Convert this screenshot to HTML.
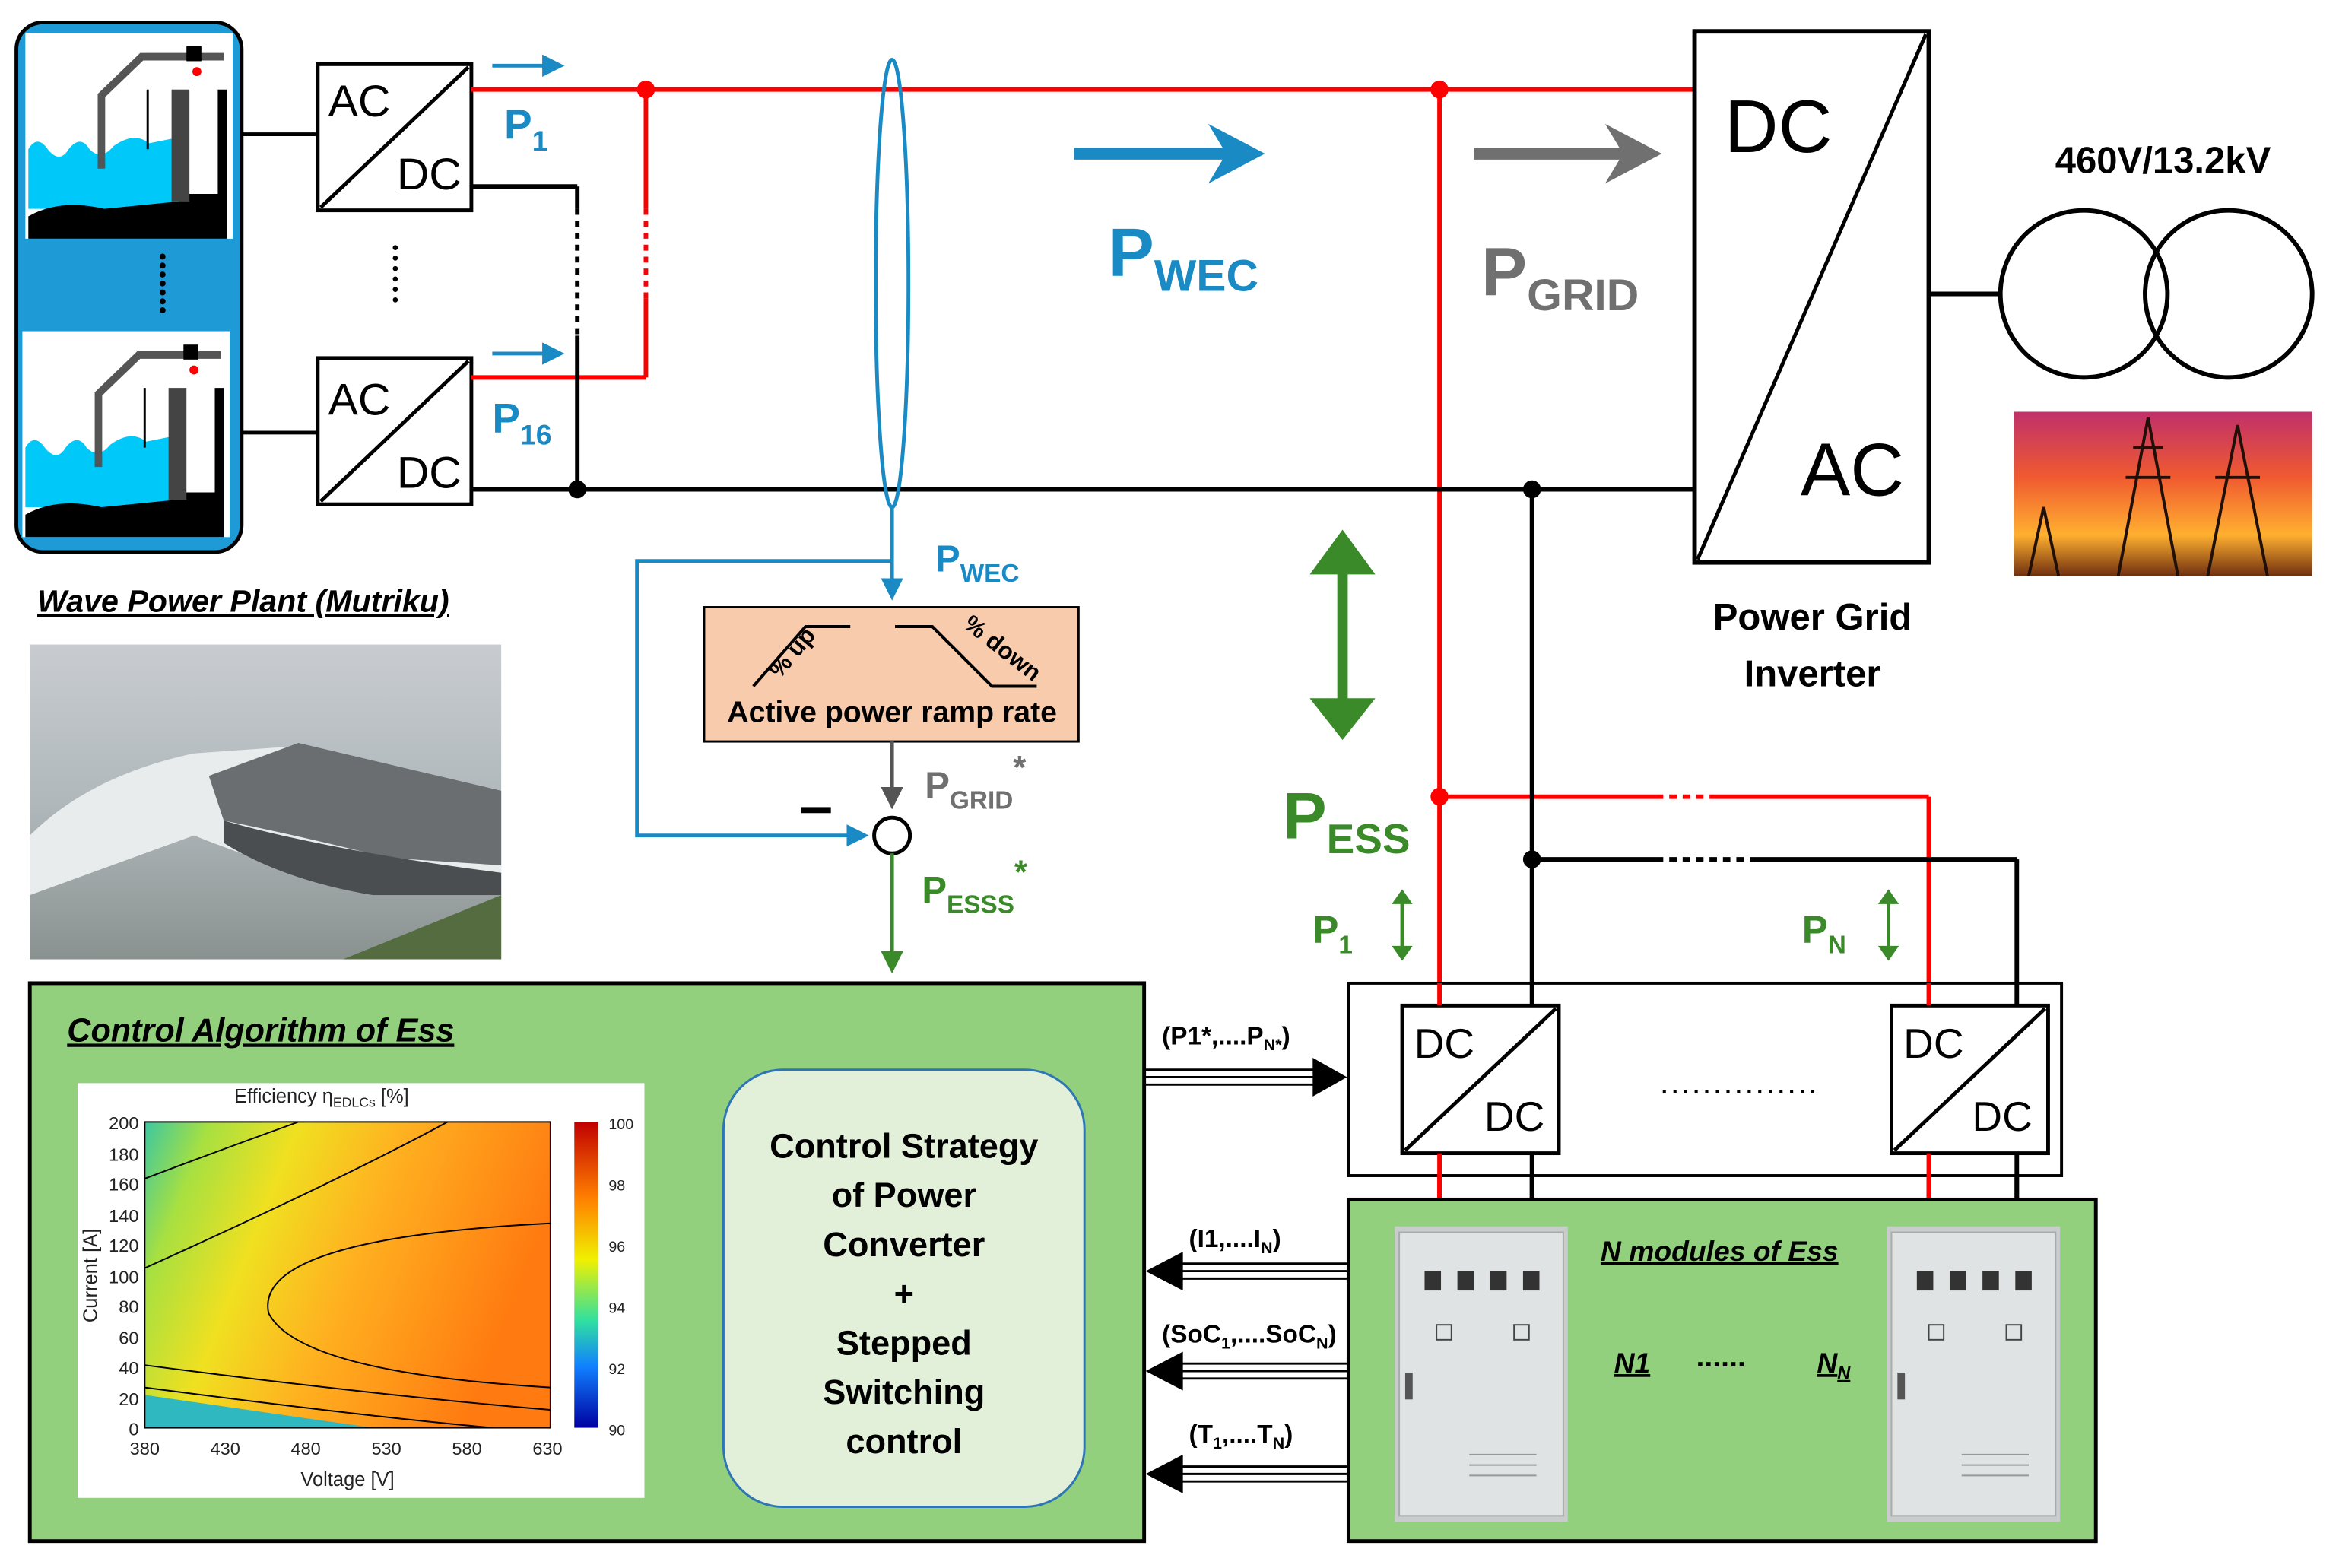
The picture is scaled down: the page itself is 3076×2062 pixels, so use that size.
<!DOCTYPE html>
<html><head><meta charset="utf-8"><style>
html,body{margin:0;padding:0;background:#fff;}
svg{display:block;}
text{font-family:"Liberation Sans","DejaVu Sans",sans-serif;}
</style></head><body>
<svg width="3076" height="2062" viewBox="0 0 1568 1051" preserveAspectRatio="none" xmlns="http://www.w3.org/2000/svg">
<defs>
<marker id="ab" markerWidth="6" markerHeight="6" refX="5" refY="3" orient="auto" markerUnits="strokeWidth"><path d="M0,0 L6,3 L0,6 z" fill="#1a8ac4"/></marker>
<marker id="ag" markerWidth="6" markerHeight="6" refX="5" refY="3" orient="auto" markerUnits="strokeWidth"><path d="M0,0 L6,3 L0,6 z" fill="#555"/></marker>
<marker id="agr" markerWidth="6" markerHeight="6" refX="5" refY="3" orient="auto" markerUnits="strokeWidth"><path d="M0,0 L6,3 L0,6 z" fill="#3a8a2a"/></marker>
<linearGradient id="heat" x1="0" y1="0" x2="1" y2="0.3">
<stop offset="0" stop-color="#3cc8a0"/><stop offset="0.15" stop-color="#a8e040"/><stop offset="0.35" stop-color="#f0e020"/><stop offset="0.6" stop-color="#ffb020"/><stop offset="1" stop-color="#ff7a10"/></linearGradient>
<linearGradient id="cbar" x1="0" y1="0" x2="0" y2="1"><stop offset="0" stop-color="#c00000"/><stop offset="0.25" stop-color="#ff8000"/><stop offset="0.45" stop-color="#f0f000"/><stop offset="0.65" stop-color="#30e0a0"/><stop offset="0.8" stop-color="#1080ff"/><stop offset="1" stop-color="#0000a0"/></linearGradient>
<linearGradient id="sun" x1="0" y1="0" x2="0" y2="1"><stop offset="0" stop-color="#c0306a"/><stop offset="0.4" stop-color="#f05a30"/><stop offset="0.75" stop-color="#ffb030"/><stop offset="1" stop-color="#703010"/></linearGradient>
<linearGradient id="sea" x1="0" y1="0" x2="0" y2="1"><stop offset="0" stop-color="#c8ccd0"/><stop offset="0.5" stop-color="#b0b8bc"/><stop offset="1" stop-color="#8a9290"/></linearGradient>
</defs>

<!-- Wave panel -->
<rect x="11" y="15" width="151" height="355" rx="18" fill="#1e9bd7" stroke="#000" stroke-width="2.5"/>
<g id="wec">
<rect x="17" y="22" width="139" height="138" fill="#fff"/>
<path d="M19,100 Q25,90 32,100 Q40,110 46,100 Q54,90 60,100 Q68,108 76,98 Q90,88 100,96 L120,92 L120,140 L19,140 z" fill="#00c8f8"/>
<path d="M19,160 L19,145 Q40,133 70,140 L120,135 L120,130 L146,130 L146,60 L152,60 L152,160 z" fill="#000"/>
<rect x="115" y="60" width="12" height="75" fill="#444"/>
<path d="M68,113 L68,64 L95,38 L150,38" fill="none" stroke="#555" stroke-width="5"/>
<rect x="125" y="31" width="10" height="10" fill="#000"/>
<circle cx="132" cy="48" r="3" fill="red"/>
<line x1="99" y1="60" x2="99" y2="100" stroke="#000" stroke-width="1.5"/>
</g>
<use href="#wec" transform="translate(-2,200)"/>
<g fill="#000"><circle cx="109" cy="172" r="2"/><circle cx="109" cy="178" r="2"/><circle cx="109" cy="184" r="2"/><circle cx="109" cy="190" r="2"/><circle cx="109" cy="196" r="2"/><circle cx="109" cy="202" r="2"/><circle cx="109" cy="208" r="2"/></g>

<!-- AC/DC boxes -->
<g stroke="#000" stroke-width="2.5" fill="#fff">
<rect x="213" y="43" width="103" height="98"/><line x1="215" y1="139" x2="314" y2="45"/>
<rect x="213" y="240" width="103" height="98"/><line x1="215" y1="336" x2="314" y2="242"/>
</g>
<g font-size="30" fill="#000"><text x="220" y="78">AC</text><text x="266" y="127">DC</text><text x="220" y="278">AC</text><text x="266" y="327">DC</text></g>
<g fill="#000"><circle cx="265" cy="166" r="1.7"/><circle cx="265" cy="173" r="1.7"/><circle cx="265" cy="180" r="1.7"/><circle cx="265" cy="187" r="1.7"/><circle cx="265" cy="194" r="1.7"/><circle cx="265" cy="201" r="1.7"/></g>
<line x1="162" y1="90" x2="213" y2="90" stroke="#000" stroke-width="2.5"/>
<line x1="162" y1="290" x2="213" y2="290" stroke="#000" stroke-width="2.5"/>

<!-- red bus -->
<g stroke="#f00" stroke-width="3" fill="none">
<line x1="316" y1="60" x2="1136" y2="60"/>
<line x1="433" y1="60" x2="433" y2="140"/><line x1="433" y1="140" x2="433" y2="200" stroke-dasharray="4,4"/><line x1="433" y1="200" x2="433" y2="253"/>
<line x1="316" y1="253" x2="433" y2="253"/>
<line x1="965" y1="60" x2="965" y2="805"/>
<line x1="965" y1="534" x2="1110" y2="534"/><line x1="1110" y1="534" x2="1150" y2="534" stroke-dasharray="5,4"/><line x1="1150" y1="534" x2="1293" y2="534"/>
<line x1="1293" y1="534" x2="1293" y2="805"/>
</g>
<g fill="#f00"><circle cx="433" cy="60" r="6"/><circle cx="965" cy="60" r="6"/><circle cx="965" cy="534" r="6"/></g>
<!-- black bus -->
<g stroke="#000" stroke-width="3" fill="none">
<line x1="316" y1="125" x2="387" y2="125"/>
<line x1="387" y1="125" x2="387" y2="140"/><line x1="387" y1="140" x2="387" y2="225" stroke-dasharray="4,4"/><line x1="387" y1="225" x2="387" y2="328"/>
<line x1="316" y1="328" x2="1136" y2="328"/>
<line x1="1027" y1="328" x2="1027" y2="805"/>
<line x1="1027" y1="576" x2="1110" y2="576"/><line x1="1110" y1="576" x2="1175" y2="576" stroke-dasharray="5,4"/><line x1="1175" y1="576" x2="1352" y2="576"/>
<line x1="1352" y1="576" x2="1352" y2="805"/>
</g>
<g fill="#000"><circle cx="387" cy="328" r="6"/><circle cx="1027" cy="328" r="6"/><circle cx="1027" cy="576" r="6"/></g>

<!-- small blue arrows and labels -->
<g stroke="#1a8ac4" stroke-width="2.5"><line x1="330" y1="44" x2="376" y2="44" marker-end="url(#ab)"/><line x1="330" y1="237" x2="376" y2="237" marker-end="url(#ab)"/></g>
<g fill="#1a8ac4" font-weight="bold"><text x="338" y="93" font-size="28">P<tspan font-size="19" dy="8">1</tspan></text><text x="330" y="290" font-size="28">P<tspan font-size="19" dy="8">16</tspan></text></g>

<!-- ellipse -->
<ellipse cx="598" cy="190" rx="11" ry="150" fill="none" stroke="#1a8ac4" stroke-width="2.5"/>
<!-- big arrows -->
<line x1="720" y1="103" x2="832" y2="103" stroke="#1a8ac4" stroke-width="8"/><path d="M810,83 L848,103 L810,123 L822,103 z" fill="#1a8ac4"/>
<text x="743" y="185" font-size="46" font-weight="bold" fill="#1a8ac4">P<tspan font-size="30" dy="10">WEC</tspan></text>
<line x1="988" y1="103" x2="1098" y2="103" stroke="#707070" stroke-width="8"/><path d="M1076,83 L1114,103 L1076,123 L1088,103 z" fill="#707070"/>
<text x="993" y="198" font-size="46" font-weight="bold" fill="#707070">P<tspan font-size="30" dy="10">GRID</tspan></text>

<!-- inverter -->
<rect x="1136" y="21" width="157" height="356" fill="#fff" stroke="#000" stroke-width="3"/>
<line x1="1138" y1="375" x2="1291" y2="23" stroke="#000" stroke-width="2.5"/>
<text x="1156" y="102" font-size="50" fill="#000">DC</text><text x="1207" y="332" font-size="50" fill="#000">AC</text>
<text x="1215" y="422" font-size="25" font-weight="bold" text-anchor="middle">Power Grid</text>
<text x="1215" y="460" font-size="25" font-weight="bold" text-anchor="middle">Inverter</text>
<!-- transformer -->
<line x1="1293" y1="197" x2="1341" y2="197" stroke="#000" stroke-width="3"/>
<circle cx="1397" cy="197" r="56" fill="none" stroke="#000" stroke-width="3"/><circle cx="1494" cy="197" r="56" fill="none" stroke="#000" stroke-width="3"/>
<text x="1450" y="116" font-size="25" font-weight="bold" text-anchor="middle">460V/13.2kV</text>
<rect x="1350" y="276" width="200" height="110" fill="url(#sun)"/>
<g stroke="#201008" stroke-width="2" fill="none"><path d="M1420,386 L1440,280 L1460,386 M1425,320 L1455,320 M1430,300 L1450,300"/><path d="M1480,386 L1500,285 L1520,386 M1485,320 L1515,320"/><path d="M1360,386 L1370,340 L1380,386"/></g>

<!-- green double arrow -->
<line x1="900" y1="375" x2="900" y2="478" stroke="#3a8a2a" stroke-width="7"/>
<path d="M878,385 L900,355 L922,385 z M878,468 L900,496 L922,468 z" fill="#3a8a2a"/>
<text x="860" y="562" font-size="44" font-weight="bold" fill="#3a8a2a">P<tspan font-size="28" dy="10">ESS</tspan></text>
<text x="880" y="632" font-size="26" font-weight="bold" fill="#3a8a2a">P<tspan font-size="17" dy="7">1</tspan></text>
<text x="1208" y="632" font-size="26" font-weight="bold" fill="#3a8a2a">P<tspan font-size="17" dy="7">N</tspan></text>
<g stroke="#3a8a2a" stroke-width="2.5"><line x1="940" y1="600" x2="940" y2="640"/><line x1="1266" y1="600" x2="1266" y2="640"/></g>
<g fill="#3a8a2a"><path d="M933,606 L940,596 L947,606z M933,634 L940,644 L947,634z"/><path d="M1259,606 L1266,596 L1273,606z M1259,634 L1266,644 L1273,634z"/></g>

<!-- DC/DC container -->
<rect x="904" y="659" width="478" height="129" fill="#fff" stroke="#000" stroke-width="2"/>
<g stroke="#000" stroke-width="2.5" fill="#fff">
<rect x="940" y="674" width="105" height="99"/><line x1="942" y1="771" x2="1043" y2="676"/>
<rect x="1268" y="674" width="105" height="99"/><line x1="1270" y1="771" x2="1371" y2="676"/>
</g>
<g stroke="#f00" stroke-width="3"><line x1="965" y1="659" x2="965" y2="674"/><line x1="1293" y1="659" x2="1293" y2="674"/><line x1="965" y1="773" x2="965" y2="805"/><line x1="1293" y1="773" x2="1293" y2="805"/></g>
<g stroke="#000" stroke-width="3"><line x1="1027" y1="659" x2="1027" y2="674"/><line x1="1352" y1="659" x2="1352" y2="674"/><line x1="1027" y1="773" x2="1027" y2="805"/><line x1="1352" y1="773" x2="1352" y2="805"/></g>
<g font-size="28" fill="#000"><text x="948" y="709">DC</text><text x="995" y="758">DC</text><text x="1276" y="709">DC</text><text x="1322" y="758">DC</text></g>
<text x="1166" y="733" font-size="22" text-anchor="middle" letter-spacing="1">...............</text>

<!-- ESS box -->
<rect x="904" y="804" width="501" height="229" fill="#92d07e" stroke="#000" stroke-width="2.5"/>
<g id="cab"><rect x="935" y="822" width="116" height="198" fill="#c8cccc"/><rect x="938" y="826" width="110" height="190" fill="#dfe3e3" stroke="#aaa"/>
<g fill="#333"><rect x="955" y="852" width="11" height="13"/><rect x="977" y="852" width="11" height="13"/><rect x="999" y="852" width="11" height="13"/><rect x="1021" y="852" width="11" height="13"/></g>
<g fill="none" stroke="#444"><rect x="963" y="888" width="10" height="10"/><rect x="1015" y="888" width="10" height="10"/></g>
<rect x="942" y="920" width="5" height="18" fill="#555"/>
<g stroke="#999"><line x1="985" y1="975" x2="1030" y2="975"/><line x1="985" y1="982" x2="1030" y2="982"/><line x1="985" y1="989" x2="1030" y2="989"/></g></g>
<use href="#cab" transform="translate(330,0)"/>
<g font-size="19" font-weight="bold" font-style="italic" text-decoration="underline" fill="#000"><text x="1073" y="845">N modules of Ess</text><text x="1082" y="920">N1</text><text x="1218" y="920">N<tspan font-size="12" dy="4">N</tspan></text></g>
<text x="1137" y="916" font-size="20" font-weight="bold">......</text>

<!-- arrows between -->
<g stroke="#000" stroke-width="1.5">
<line x1="767" y1="717" x2="888" y2="717"/><line x1="767" y1="722" x2="888" y2="722"/><line x1="767" y1="727" x2="888" y2="727"/>
<line x1="785" y1="847" x2="904" y2="847"/><line x1="785" y1="852" x2="904" y2="852"/><line x1="785" y1="857" x2="904" y2="857"/>
<line x1="785" y1="914" x2="904" y2="914"/><line x1="785" y1="919" x2="904" y2="919"/><line x1="785" y1="924" x2="904" y2="924"/>
<line x1="785" y1="983" x2="904" y2="983"/><line x1="785" y1="988" x2="904" y2="988"/><line x1="785" y1="993" x2="904" y2="993"/>
</g>
<g fill="#000"><path d="M880,709 L903,722 L880,735z"/><path d="M793,839 L768,852 L793,865z"/><path d="M793,906 L768,919 L793,932z"/><path d="M793,975 L768,988 L793,1001z"/></g>
<g font-size="17" font-weight="bold" fill="#000">
<text x="779" y="700">(P1*,....P<tspan font-size="11" dy="4">N*</tspan><tspan dy="-4">)</tspan></text>
<text x="797" y="836">(I1,....I<tspan font-size="11" dy="4">N</tspan><tspan dy="-4">)</tspan></text>
<text x="779" y="900">(SoC<tspan font-size="11" dy="4">1</tspan><tspan dy="-4">,....SoC</tspan><tspan font-size="11" dy="4">N</tspan><tspan dy="-4">)</tspan></text>
<text x="797" y="967">(T<tspan font-size="11" dy="4">1</tspan><tspan dy="-4">,....T</tspan><tspan font-size="11" dy="4">N</tspan><tspan dy="-4">)</tspan></text>
</g>

<!-- control box -->
<rect x="20" y="659" width="747" height="374" fill="#92d07e" stroke="#000" stroke-width="2.5"/>
<text x="45" y="698" font-size="22" font-weight="bold" font-style="italic" text-decoration="underline">Control Algorithm of Ess</text>
<rect x="52" y="726" width="380" height="278" fill="#fff"/>
<rect x="97" y="752" width="272" height="205" fill="url(#heat)"/>
<g fill="none" stroke="#000" stroke-width="1"><path d="M97,790 Q150,770 200,752"/><path d="M97,850 Q230,790 300,752"/><path d="M369,820 Q170,830 180,880 Q200,920 369,930"/><path d="M97,915 Q250,935 369,945"/><path d="M97,930 Q250,950 330,957"/></g>
<path d="M97,935 Q200,950 250,957 L97,957z" fill="#30b8c0"/>
<rect x="97" y="752" width="272" height="205" fill="none" stroke="#000"/>
<rect x="385" y="752" width="16" height="205" fill="url(#cbar)"/>
<g font-size="12" fill="#222"><text x="157" y="739" font-size="13">Efficiency η<tspan font-size="9" dy="3">EDLCs</tspan><tspan dy="-3"> [%]</tspan></text>
<text x="93" y="757" text-anchor="end">200</text><text x="93" y="778" text-anchor="end">180</text><text x="93" y="798" text-anchor="end">160</text><text x="93" y="819" text-anchor="end">140</text><text x="93" y="839" text-anchor="end">120</text><text x="93" y="860" text-anchor="end">100</text><text x="93" y="880" text-anchor="end">80</text><text x="93" y="901" text-anchor="end">60</text><text x="93" y="921" text-anchor="end">40</text><text x="93" y="942" text-anchor="end">20</text><text x="93" y="962" text-anchor="end">0</text>
<text x="97" y="975" text-anchor="middle">380</text><text x="151" y="975" text-anchor="middle">430</text><text x="205" y="975" text-anchor="middle">480</text><text x="259" y="975" text-anchor="middle">530</text><text x="313" y="975" text-anchor="middle">580</text><text x="367" y="975" text-anchor="middle">630</text>
<text x="233" y="996" text-anchor="middle" font-size="13">Voltage [V]</text>
<text x="65" y="855" font-size="13" transform="rotate(-90 65 855)" text-anchor="middle">Current [A]</text>
<text x="408" y="757" font-size="10">100</text><text x="408" y="798" font-size="10">98</text><text x="408" y="839" font-size="10">96</text><text x="408" y="880" font-size="10">94</text><text x="408" y="921" font-size="10">92</text><text x="408" y="962" font-size="10">90</text></g>
<rect x="485" y="717" width="242" height="293" rx="40" fill="#e2f0d9" stroke="#2e75b6" stroke-width="1.5"/>
<g font-size="23" font-weight="bold" text-anchor="middle" fill="#000"><text x="606" y="776">Control Strategy</text><text x="606" y="809">of Power</text><text x="606" y="842">Converter</text><text x="606" y="875">+</text><text x="606" y="908">Stepped</text><text x="606" y="941">Switching</text><text x="606" y="974">control</text></g>

<!-- blue feedback & ramp -->
<g fill="none" stroke="#1a8ac4" stroke-width="2.5">
<line x1="598" y1="340" x2="598" y2="400" marker-end="url(#ab)"/>
<path d="M598,376 L427,376 L427,560 L580,560" marker-end="url(#ab)"/>
</g>
<text x="627" y="383" font-size="25" font-weight="bold" fill="#1a8ac4">P<tspan font-size="17" dy="7">WEC</tspan></text>
<rect x="472" y="407" width="251" height="90" fill="#f8cbad" stroke="#000" stroke-width="1.5"/>
<g fill="none" stroke="#000" stroke-width="2"><path d="M505,460 L540,420 L570,420"/><path d="M600,420 L625,420 L665,460 L695,460"/></g>
<text x="510" y="452" font-size="16" font-weight="bold" transform="rotate(-50 520 440)">% up</text>
<text x="645" y="420" font-size="16" font-weight="bold" transform="rotate(38 645 420)">% down</text>
<text x="598" y="484" font-size="20" font-weight="bold" text-anchor="middle">Active power ramp rate</text>
<line x1="598" y1="497" x2="598" y2="540" stroke="#555" stroke-width="2.5" marker-end="url(#ag)"/>
<text x="620" y="535" font-size="25" font-weight="bold" fill="#707070">P<tspan font-size="17" dy="7">GRID</tspan><tspan font-size="22" dy="-20">*</tspan></text>
<circle cx="598" cy="560" r="12" fill="#fff" stroke="#000" stroke-width="2.5"/>
<rect x="537" y="541" width="20" height="4" fill="#000"/>
<line x1="598" y1="572" x2="598" y2="650" stroke="#3a8a2a" stroke-width="2.5" marker-end="url(#agr)"/>
<text x="618" y="605" font-size="25" font-weight="bold" fill="#3a8a2a">P<tspan font-size="17" dy="7">ESSS</tspan><tspan font-size="22" dy="-20">*</tspan></text>

<!-- Wave plant label and photo -->
<text x="25" y="410" font-size="21" font-weight="bold" font-style="italic" text-decoration="underline">Wave Power Plant (Mutriku)</text>
<rect x="20" y="432" width="316" height="211" fill="url(#sea)"/>
<path d="M20,560 Q60,520 130,505 L200,500 L336,540 L336,600 L250,600 Q180,580 130,560 L20,600z" fill="#e8ecec"/>
<path d="M140,520 L200,498 L336,530 L336,580 L260,575 Q200,560 150,550z" fill="#6a6e70"/>
<path d="M150,550 Q220,570 336,585 L336,600 L250,600 Q190,590 150,565z" fill="#4a4e50"/>
<path d="M230,643 L336,600 L336,643z" fill="#556b40"/>
</svg>
</body></html>
